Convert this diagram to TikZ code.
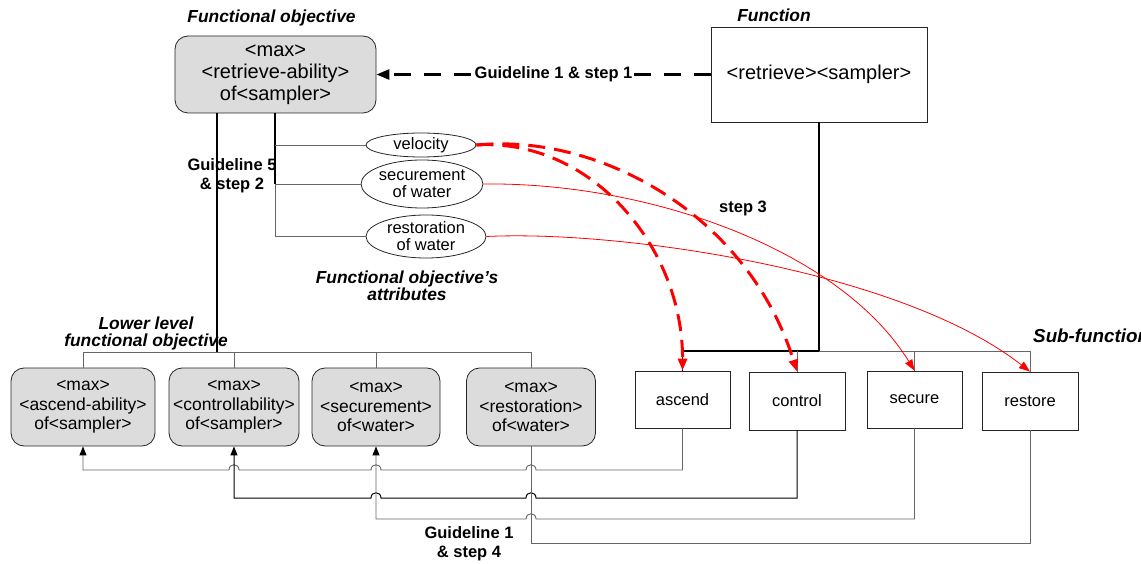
\documentclass[tikz,border=0pt]{standalone}
\usepackage{fontspec}
\setmainfont{Liberation Sans}
\usetikzlibrary{arrows.meta,shapes.geometric}
\definecolor{boxgray}{HTML}{DCDCDC}
\definecolor{linegray}{HTML}{666666}
\begin{document}
\begin{tikzpicture}[x=1pt,y=-1pt,
  objbox/.style={draw=black!85, line width=0.8pt, rounded corners=13pt, fill=boxgray, align=center, inner sep=0pt},
  topfont/.style={font=\fontsize{20}{22}\selectfont},
  lowfont/.style={font=\fontsize{17.5}{19.5}\selectfont},
  fnbox/.style={draw=black!85, line width=0.8pt, align=center, inner sep=0pt},
  subfont/.style={font=\fontsize{16.5}{18}\selectfont},
  attr/.style={ellipse, draw=black!85, line width=0.8pt, align=center, inner sep=0pt, font=\fontsize{16.5}{17}\selectfont},
  lbl/.style={font=\bfseries\fontsize{16.5}{19}\selectfont, align=center, inner sep=1pt},
  ilbl/.style={font=\bfseries\itshape\fontsize{17.4}{17.5}\selectfont, align=center, inner sep=0pt},
  conn/.style={line width=0.9pt, draw=linegray},
  bconn/.style={line width=1.2pt, draw=black},
  tip/.style={-{Triangle[length=9pt,width=7pt,black]}},
  reddash/.style={draw=red, line width=3pt, dash pattern=on 17pt off 9pt, -{Triangle[length=12pt,width=9pt]}},
  redthin/.style={draw=red, line width=0.8pt, -{Triangle[length=11pt,width=8pt]}},
  guide/.style={draw=black, line width=2.6pt, dash pattern=on 17pt off 13pt, -{Triangle[length=13pt,width=10pt]}}
]
\useasboundingbox (0,0) rectangle (1141,564);
\clip (0,0) rectangle (1141,564);

% labels
\node[ilbl] (lfo) at (271.5,18) {Functional objective};
\node[ilbl] (lfn) at (774,15) {Function};
\node[ilbl, font=\bfseries\itshape\fontsize{18.8}{19}\selectfont, anchor=west] (lsub) at (1033,336) {Sub-functions};
\node[ilbl] (lattr) at (407,286) {Functional objective’s\\attributes};

% main boxes
\node[objbox, topfont, minimum width=201pt, minimum height=77pt] (top) at (275.5,74.5)
  {<max>\\<retrieve-ability>\\of<sampler>};
\node[fnbox, topfont, minimum width=216pt, minimum height=95pt] (fn) at (819,74.5)
  {<retrieve><sampler>};

% attributes
\node[attr, minimum width=110pt, minimum height=24pt] (vel) at (421,145) {velocity};
\node[attr, minimum width=120pt, minimum height=48pt] (sec) at (422,184) {securement\\of water};
\node[attr, minimum width=120pt, minimum height=43pt] (res) at (426,236.5) {restoration\\of water};

% lower level objectives
\node[objbox, lowfont, minimum width=144pt, minimum height=78pt] (b1) at (83,407) {<max>\\<ascend-ability>\\of<sampler>};
\node[objbox, lowfont, minimum width=130pt, minimum height=78pt] (b2) at (234,407) {<max>\\<controllability>\\of<sampler>};
\node[objbox, lowfont, minimum width=128pt, minimum height=78pt] (b3) at (376,407) {<max>\\<securement>\\of<water>};
\node[objbox, lowfont, minimum width=129pt, minimum height=78pt] (b4) at (531,407) {<max>\\<restoration>\\of<water>};

% sub-functions
\node[fnbox, subfont, minimum width=95pt, minimum height=57pt] (asc) at (682.5,399.5) {ascend};
\node[fnbox, subfont, minimum width=96pt, minimum height=58pt] (ctl) at (797,401) {control};
\node[fnbox, subfont, minimum width=95pt, minimum height=57pt] (scr) at (914.5,399.5) {secure};
\node[fnbox, subfont, minimum width=96pt, minimum height=58pt] (rst) at (1030,401) {restore};

% guideline 1 & step 1
\draw[guide] (fn.west) -- (top.east) node[lbl, fill=white, pos=0.47] (g1) {Guideline 1 \& step 1};

% top objective to lower level objectives
\coordinate (lb) at (217,352);
\draw[bconn] (top.south -| lb) -- (lb);
\draw[conn] (b1.north) -- (b1.north |- lb) -- (b4.north |- lb) -- (b4.north);
\draw[conn] (b2.north) -- (b2.north |- lb);
\draw[conn] (b3.north) -- (b3.north |- lb);
\node[ilbl] (llo) at (146,333.5) {Lower level\\functional objective};
\node[lbl] (g5) at (232,175.5) {Guideline 5\\\& step 2};

% attribute tree
\coordinate (at) at (275,0);
\draw[bconn] (top.south -| at) -- (sec.west -| at);
\draw[conn] (sec.west -| at) -- (res.west -| at) -- (res.west);
\draw[conn] (vel.west -| at) -- (vel.west);
\draw[conn] (sec.west -| at) -- (sec.west);

% function to sub-functions
\coordinate (rb) at (0,351);
\draw[bconn] (fn.south) -- (fn.south |- rb);
\draw[bconn] (asc.north) -- (asc.north |- rb) -- (fn.south |- rb);
\draw[conn] (fn.south |- rb) -- (rst.north |- rb) -- (rst.north);
\draw[conn] (ctl.north) -- (ctl.north |- rb);
\draw[conn] (scr.north) -- (scr.north |- rb);

% step 3 red connectors
\draw[reddash] (vel.east) .. controls (590,138) and (683,246) .. (asc.north);
\draw[reddash] (vel.east) .. controls (600,133) and (748,215) .. (ctl.north);
\draw[redthin] (sec.east) .. controls (650,182) and (840,250) .. (scr.north);
\draw[redthin] (res.east) .. controls (620,230) and (900,270) .. (rst.north);
\node[lbl] (s3) at (743,208) {step 3};

% guideline 1 & step 4 (with line hops)
\draw[conn, tip] (asc.south) -- (682.5,470) -- (536,470)
  .. controls (536,463) and (526,463) .. (526,470) -- (381,470)
  .. controls (381,463) and (371,463) .. (371,470) -- (239,470)
  .. controls (239,463) and (229,463) .. (229,470) -- (83,470) -- (b1.south);
\draw[bconn, line width=1pt, tip] (ctl.south) -- (797,498) -- (536,498)
  .. controls (536,491) and (526,491) .. (526,498) -- (381,498)
  .. controls (381,491) and (371,491) .. (371,498) -- (234,498) -- (b2.south);
\draw[conn, tip] (scr.south) -- (914.5,519) -- (536,519)
  .. controls (536,512) and (526,512) .. (526,519) -- (376,519) -- (b3.south);
\draw[conn] (rst.south) -- (1030,543) -- (531,543) -- (b4.south);
\node[lbl] (g4) at (469,543.5) {Guideline 1\\\& step 4};
\end{tikzpicture}
\end{document}
